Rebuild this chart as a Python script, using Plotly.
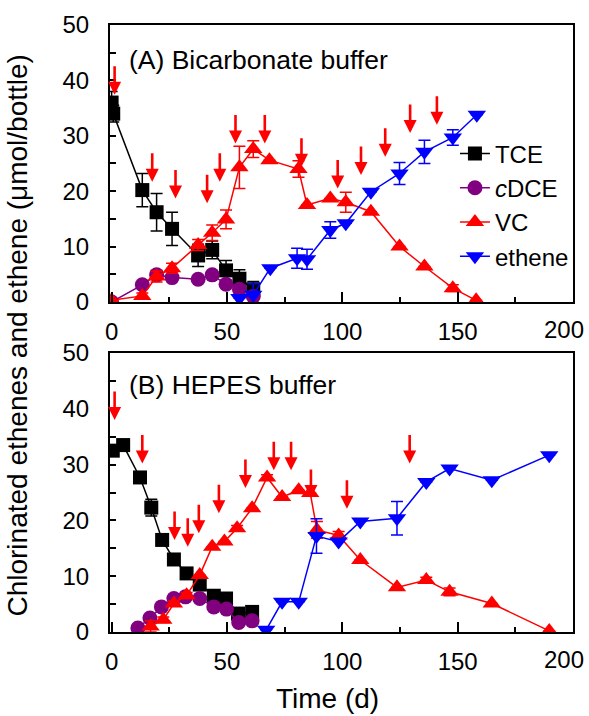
import plotly.graph_objects as go

# ---------------- Panel A: Bicarbonate buffer ----------------
a_tce_day = [0, 0.7, 13.3, 19.5, 26.2, 37.5, 43.6, 49.6, 55.4, 61.4]
a_tce = [36.0, 34.0, 20.2, 16.2, 13.2, 8.4, 9.4, 5.7, 4.2, 2.3]
a_tce_err = [2.0, 1.5, 3.0, 3.4, 3.0, 2.0, 1.6, 1.8, 1.6, 1.4]

a_dce_day = [0, 13.3, 19.5, 26.2, 37.5, 43.6, 49.6, 55.4, 61.4]
a_dce = [0.0, 3.1, 4.9, 4.4, 4.1, 4.9, 3.2, 2.3, 1.0]
a_dce_err = [0, 0.5, 0.8, 0.5, 0.5, 0.5, 0.5, 0.8, 0.5]

a_vc_day = [0, 13.3, 19.5, 26.2, 37.5, 43.6, 49.6, 55.4, 61.4, 68.4, 81.0, 84.7,
            94.8, 101.5, 112.4, 124.8, 135.6, 147.9, 158.0]
a_vc = [0.3, 1.1, 4.6, 6.1, 10.3, 12.5, 14.9, 24.3, 27.6, 25.6, 24.0, 17.5,
        18.7, 18.0, 16.3, 10.0, 6.4, 2.5, 0.3]
a_vc_err = [0, 0.5, 1.0, 0.9, 1.0, 1.4, 1.7, 3.8, 1.5, 0, 1.5, 0,
            0, 1.8, 0, 0, 0, 0.6, 0]

a_eth_day = [55.4, 61.4, 68.8, 80.4, 84.7, 94.8, 101.5, 112.4, 124.8, 135.6, 147.9, 158.3]
a_eth = [0.7, 1.3, 6.1, 7.9, 7.7, 13.0, 14.2, 19.9, 23.2, 27.1, 29.7, 33.8]
a_eth_err = [0, 2.0, 0, 1.8, 1.8, 1.5, 0, 0, 2.0, 2.1, 1.4, 0]

a_arrow_day = [1.3, 17.6, 27.7, 41.4, 46.9, 53.7, 66.4, 82.3, 98.0, 108.1, 118.6, 129.4, 141.0]
a_arrow_tip = [37.4, 21.7, 18.7, 17.8, 21.7, 28.6, 28.6, 24.4, 20.5, 22.9, 26.2, 30.5, 32.0]

# ---------------- Panel B: HEPES buffer ----------------
b_tce_day = [0.5, 5.0, 12.3, 17.2, 21.9, 27.0, 32.5, 38.2, 44.3, 49.6, 54.8, 60.9]
b_tce = [32.5, 33.5, 27.7, 22.3, 16.5, 13.0, 10.5, 8.5, 6.5, 6.0, 3.3, 3.6]
b_tce_err = [1.0, 1.0, 0, 1.5, 0, 0, 0, 0, 0, 0, 0, 0]

b_dce_day = [11.4, 16.6, 21.6, 27.0, 32.0, 38.2, 44.3, 49.8, 55.1, 60.9]
b_dce = [0.7, 2.5, 4.5, 6.0, 6.3, 6.0, 4.5, 4.1, 1.7, 2.0]
b_dce_err = [0, 0.5, 0.5, 0.5, 0.5, 0.5, 0.5, 0.5, 0.5, 0.5]

b_vc_day = [16.9, 22.4, 27.0, 32.5, 38.2, 43.6, 48.9, 54.4, 60.9, 67.4, 73.9, 81.1,
            86.1, 89.0, 98.4, 107.8, 123.7, 136.4, 146.5, 164.8, 189.7]
b_vc = [1.0, 2.2, 5.1, 6.6, 10.2, 15.3, 16.2, 18.6, 22.2, 27.7, 24.2, 25.4,
        24.9, 18.3, 17.3, 12.9, 8.0, 9.3, 7.2, 5.1, 0.2]
b_vc_err = [1.0, 0.5, 0.5, 0.5, 0, 0, 0, 0.5, 0, 0.5, 0, 0,
            0, 1.5, 0.7, 0, 0, 0.5, 0.7, 0, 0]

b_eth_day = [67.0, 73.9, 81.1, 88.8, 98.4, 107.8, 123.7, 136.4, 146.5, 164.8, 189.7]
b_eth = [0.4, 5.4, 5.4, 17.2, 16.2, 19.8, 20.4, 26.9, 29.3, 27.2, 31.7]
b_eth_err = [0, 0, 0, 3.1, 0, 0, 3.0, 0, 0, 0, 0]

b_arrow_day = [1.3, 13.3, 27.3, 33.0, 37.8, 46.5, 58.0, 70.3, 77.8, 86.4, 102.0, 129.2]
b_arrow_tip = [38.0, 30.2, 16.5, 15.3, 17.7, 21.3, 25.8, 29.0, 29.0, 24.0, 22.1, 30.2]

series_names = ["TCE", "<i>c</i>DCE", "VC", "ethene"]
colors = ["#000000", "#800080", "#FF0000", "#0000FF"]
symbols = ["square", "circle", "triangle-up", "triangle-down"]
sizes = [14, 15, 16, 16]

x_major = [0, 50, 100, 150, 200]
x_major_text = ["0", "50", "100", "150", ""]
x_minor = [25, 75, 125, 175]
y_ticks = [0, 5, 10, 15, 20, 25, 30, 35, 40, 45, 50]
y_text = ["0", "", "10", "", "20", "", "30", "", "40", "", "50"]

FONT = "Liberation Sans, Arial, sans-serif"

fig = go.Figure()

panels = [
    ("x", "y", [(a_tce_day, a_tce, a_tce_err), (a_dce_day, a_dce, a_dce_err),
                (a_vc_day, a_vc, a_vc_err), (a_eth_day, a_eth, a_eth_err)], True),
    ("x2", "y2", [(b_tce_day, b_tce, b_tce_err), (b_dce_day, b_dce, b_dce_err),
                  (b_vc_day, b_vc, b_vc_err), (b_eth_day, b_eth, b_eth_err)], False),
]

for xa, ya, data, show in panels:
    for i, (xd, yd, ed) in enumerate(data):
        fig.add_trace(go.Scatter(
            x=xd, y=yd, xaxis=xa, yaxis=ya, mode="lines+markers",
            name=series_names[i], showlegend=show,
            line=dict(color=colors[i], width=1.5),
            marker=dict(symbol=symbols[i], size=sizes[i], color=colors[i]),
            error_y=dict(type="data", array=ed, visible=True, color=colors[i],
                         thickness=1.5, width=6),
        ))

annotations = []
for xa, ya, days, tips in [("x", "y", a_arrow_day, a_arrow_tip),
                           ("x2", "y2", b_arrow_day, b_arrow_tip)]:
    for d, t in zip(days, tips):
        annotations.append(dict(
            x=d, y=t, xref=xa, yref=ya, ax=0, ay=-30, text="",
            showarrow=True, arrowhead=2, arrowsize=1, arrowwidth=2.6,
            arrowcolor="#FF0000", standoff=0))

# panel labels
annotations.append(dict(text="(A) Bicarbonate buffer", xref="x domain", yref="y domain",
                        x=0.037, y=0.874, xanchor="left", yanchor="middle",
                        showarrow=False, font=dict(size=26.5, color="black", family=FONT)))
annotations.append(dict(text="(B) HEPES buffer", xref="x2 domain", yref="y2 domain",
                        x=0.037, y=0.885, xanchor="left", yanchor="middle",
                        showarrow=False, font=dict(size=26.5, color="black", family=FONT)))
# last x tick label (shifted to stay inside the picture)
for xr, yr in [("x", "y domain"), ("x2", "y2 domain")]:
    annotations.append(dict(text="200", xref=xr, yref=yr, x=200, y=0, xshift=-9,
                            yshift=-12, xanchor="center", yanchor="top", showarrow=False,
                            font=dict(size=24, color="black", family=FONT)))
# axis titles
annotations.append(dict(text="Chlorinated ethenes and ethene (\u03bcmol/bottle)",
                        xref="paper", yref="paper", x=-0.2, y=0.489, textangle=-90,
                        xanchor="center", yanchor="middle", showarrow=False,
                        font=dict(size=28, color="black", family=FONT)))
annotations.append(dict(text="Time (d)", xref="paper", yref="paper", x=0.47, y=-0.109,
                        xanchor="center", yanchor="middle", showarrow=False,
                        font=dict(size=28, color="black", family=FONT)))

xaxis_common = dict(range=[-0.7, 200], showline=True, linewidth=2, linecolor="black",
                    mirror=True, ticks="inside", ticklen=10, tickwidth=1.5,
                    tickcolor="black", tickvals=x_major, ticktext=x_major_text,
                    minor=dict(tickvals=x_minor, ticks="inside", ticklen=5,
                               tickwidth=1.5, tickcolor="black"),
                    showgrid=False, zeroline=False, ticklabelstandoff=7,
                    tickfont=dict(size=24, color="black", family=FONT))
yaxis_common = dict(range=[0, 50], showline=True, linewidth=2, linecolor="black",
                    mirror=True, ticks="inside", ticklen=6, tickwidth=1.5,
                    tickcolor="black", tickvals=y_ticks, ticktext=y_text,
                    showgrid=False, zeroline=False, ticklabelstandoff=14,
                    tickfont=dict(size=24, color="black", family=FONT))

fig.update_layout(
    width=589, height=716,
    margin=dict(l=110, r=16, t=25, b=84),
    paper_bgcolor="white", plot_bgcolor="white",
    font=dict(family=FONT, color="black"),
    xaxis=dict(anchor="y", domain=[0, 1], **xaxis_common),
    yaxis=dict(anchor="x", domain=[0.5437, 1], **yaxis_common),
    xaxis2=dict(anchor="y2", domain=[0, 1], **xaxis_common),
    yaxis2=dict(anchor="x2", domain=[0, 0.4596], **yaxis_common),
    legend=dict(x=0.745, y=0.7035, xanchor="left", yanchor="middle",
                bgcolor="rgba(0,0,0,0)", font=dict(size=24, color="black", family=FONT),
                tracegroupgap=0, itemwidth=30),
    annotations=annotations,
    showlegend=True,
)

fig.write_html("out.html",
               config={"displayModeBar": False},
               post_script="document.body.style.margin='0';"
                           "document.body.style.overflow='hidden';")
